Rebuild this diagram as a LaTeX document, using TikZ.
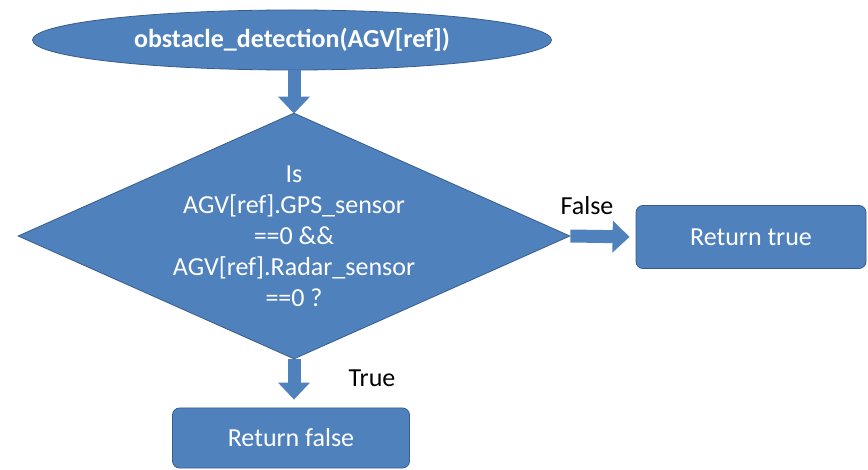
\documentclass[tikz,border=0pt]{standalone}
\usepackage{fontspec}
\setmainfont{Carlito}
\usepackage{xcolor}
\usetikzlibrary{arrows.meta,shapes.geometric,positioning}
\definecolor{boxblue}{RGB}{79,129,189}
\definecolor{boxedge}{RGB}{56,93,138}

\begin{document}
\begin{tikzpicture}[x=1pt, y=-1pt,
  shp/.style={draw=boxedge, fill=boxblue, line width=0.8pt, text=white, inner sep=0pt, align=center, font=\fontsize{26}{31}\selectfont},
  term/.style={shp, ellipse, font=\fontsize{26}{31}\selectfont\bfseries},
  cond/.style={shp, diamond, shape aspect=2.226, inner sep=-10pt},
  ret/.style={shp, rectangle, rounded corners=7pt},
  lbl/.style={font=\fontsize{26}{30}\selectfont, text=black},
  blk/.style={draw=boxblue, line width=13pt, -{Triangle[length=17pt,width=31pt]}}
]
\useasboundingbox (0,0) rectangle (868,470);
\node[term, minimum width=519pt, minimum height=60pt] (start) at (292,40) {obstacle\_detection(AGV[ref])};
\node[cond, minimum width=552pt, minimum height=246pt] (test) at (294,236) {Is\\AGV[ref].GPS\_sensor\\==0 \&\&\\AGV[ref].Radar\_sensor\\==0 ?};
\node[ret, minimum width=230pt, minimum height=63pt] (rtrue) at (751,237) {Return true};
\node[ret, minimum width=237pt, minimum height=60pt] (rfalse) at (291,438) {Return false};
\draw[blk, shorten >=-1pt] (test.north |- start.south) -- (test.north);
\draw[blk, shorten >=6pt] (test.east) -- (rtrue.west);
\draw[blk, shorten >=8pt] (test.south) -- (test.south |- rfalse.north);
\node[lbl] (lf) at (587,206) {False};
\node[lbl] (lt) at (372,378) {True};
\end{tikzpicture}
\end{document}
